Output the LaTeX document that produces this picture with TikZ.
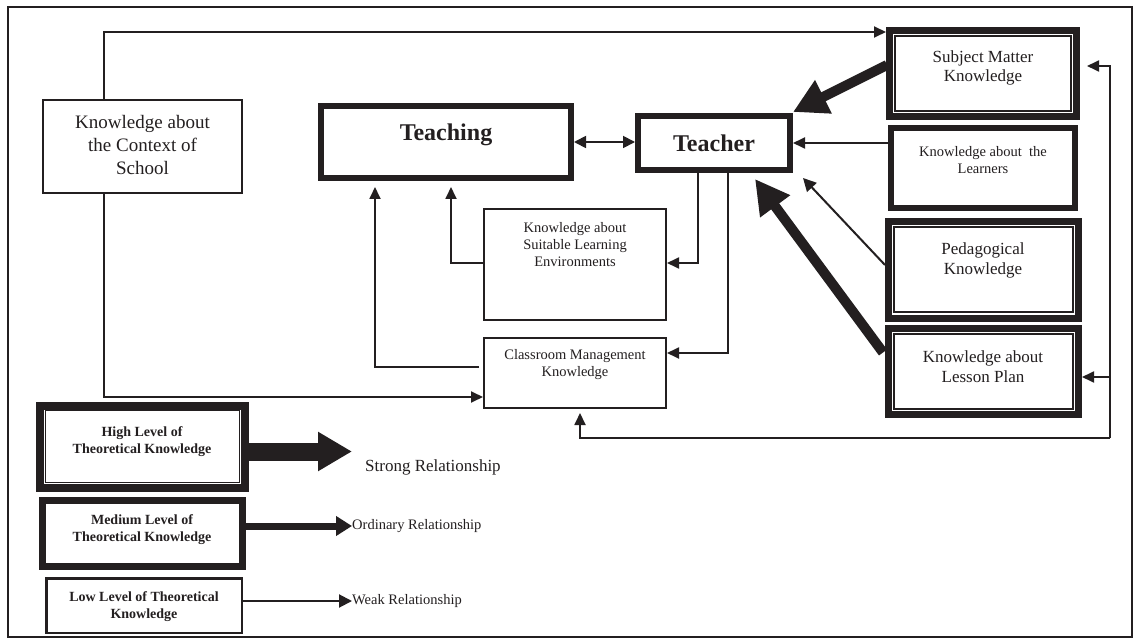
\documentclass[tikz,border=0pt]{standalone}
\usepackage{fontspec}
\setmainfont{Liberation Serif}
\usetikzlibrary{arrows.meta,calc}
\definecolor{ink}{RGB}{35,31,32}
\begin{document}
\begin{tikzpicture}[x=1pt,y=-1pt, color=ink,
  box/.style={draw, rectangle, inner sep=0pt},
  innerline/.style={line width=1.5pt},
  txt/.style={align=center, inner sep=0pt},
  conn/.style={line width=1.8pt, -{Triangle[length=12pt,width=11pt]}},
  twoway/.style={line width=1.8pt, {Triangle[length=12pt,width=12pt]}-{Triangle[length=12pt,width=12pt]}},
  plainline/.style={line width=1.8pt},
  bigarrow/.style={line width=10pt, -{Triangle[length=34pt,width=35pt]}},
  hugearrow/.style={line width=18pt, -{Triangle[length=34pt,width=37pt]}},
  midarrow/.style={line width=7pt, -{Triangle[length=16pt,width=19pt]}},
  smallarrow/.style={line width=2pt, -{Triangle[length=13pt,width=13pt]}},
]
\useasboundingbox (0,0) rectangle (1137,644);
\fill[white] (0,0) rectangle (1137,644);
\draw[line width=2pt] (8,7) rectangle (1132,637);

% boxes
\node[box, line width=2pt, minimum width=199pt, minimum height=93pt] (ctx) at (142.5,146.5) {};
\node[box, line width=7pt, minimum width=187pt, minimum height=86pt] (sm) at (983,73.5) {};
\node[box, line width=6pt, minimum width=184pt, minimum height=80pt] (lrn) at (983,168) {};
\node[box, line width=7pt, minimum width=190pt, minimum height=97pt] (ped) at (983.5,270) {};
\node[box, line width=7pt, minimum width=190pt, minimum height=86pt] (lp) at (983.5,371.5) {};
\node[box, line width=6pt, minimum width=152pt, minimum height=54pt] (tchr) at (714,143) {};
\node[box, line width=6pt, minimum width=250pt, minimum height=72pt] (tchg) at (446,142) {};
\node[box, line width=2pt, minimum width=182pt, minimum height=111pt] (sle) at (575,264.5) {};
\node[box, line width=2pt, minimum width=182pt, minimum height=70pt] (cmk) at (575,373) {};
\node[box, line width=8pt, minimum width=205pt, minimum height=82pt] (hi) at (142.5,447) {};
\node[box, line width=7pt, minimum width=200pt, minimum height=66pt] (med) at (142.5,533.5) {};
\node[box, line width=2.5pt, minimum width=195.5pt, minimum height=54.5pt] (low) at (144,605.5) {};

% inner frames of double boxes
\draw[innerline] ([shift={(9,9)}]sm.north west) rectangle ([shift={(-9,-9)}]sm.south east);
\draw[innerline] ([shift={(9,9)}]ped.north west) rectangle ([shift={(-9,-10)}]ped.south east);
\draw[innerline] ([shift={(9,9)}]lp.north west) rectangle ([shift={(-9,-9)}]lp.south east);
\draw[innerline] ([shift={(9.5,8.5)}]hi.north west) rectangle ([shift={(-9.5,-9.5)}]hi.south east);

% texts
\node[txt, font=\fontsize{19}{23}\selectfont] (ctxt) at (142.5,145) {Knowledge about\\the Context of\\School};
\node[txt, font=\fontsize{17}{19}\selectfont] (smt) at (983,68) {Subject Matter\\Knowledge};
\node[txt, font=\fontsize{14.5}{16.5}\selectfont] (lrnt) at (983,160) {Knowledge about\ \ the\\Learners};
\node[txt, font=\fontsize{17}{20}\selectfont] (pedt) at (983,260) {Pedagogical\\Knowledge};
\node[txt, font=\fontsize{17}{20}\selectfont] (lpt) at (983,367) {Knowledge about\\Lesson Plan};
\node[txt, font=\fontsize{24}{28}\selectfont\bfseries] (tchrt) at (714,143) {Teacher};
\node[txt, font=\fontsize{24}{28}\selectfont\bfseries] (tchgt) at (446,135) {Teaching};
\node[txt, font=\fontsize{14.5}{17}\selectfont] (slet) at (575,245) {Knowledge about\\Suitable Learning\\Environments};
\node[txt, font=\fontsize{14.5}{17}\selectfont] (cmkt) at (575,365) {Classroom Management\\Knowledge};
\node[txt, font=\fontsize{14}{17}\selectfont\bfseries] (hit) at (142,441.5) {High Level of\\Theoretical Knowledge};
\node[txt, font=\fontsize{14}{17}\selectfont\bfseries] (medt) at (142,529.5) {Medium Level of\\Theoretical Knowledge};
\node[txt, font=\fontsize{14}{17}\selectfont\bfseries] (lowt) at (144,606.5) {Low Level of Theoretical\\Knowledge};
\node[txt, anchor=west, font=\fontsize{17}{20}\selectfont] (strong) at (365,467) {Strong Relationship};
\node[txt, anchor=west, font=\fontsize{14.5}{17}\selectfont] (ordinary) at (352,526) {Ordinary Relationship};
\node[txt, anchor=west, font=\fontsize{14.5}{17}\selectfont] (weak) at (352,601) {Weak Relationship};

% coordinates
\coordinate (c1) at ([shift={(62,0)}]ctx.north west);
\coordinate (c2) at ([shift={(62,0)}]ctx.south west);
\coordinate (rb) at (1110,438);
\coordinate (rl) at (1110,377);
\coordinate (sa) at (352,451.5);
\coordinate (oa) at (352,526);
\coordinate (wa) at (352,601);

% connectors
\draw[conn] (c1) |- ([shift={(0,5)}]sm.north west);
\draw[conn] (c2) |- ([shift={(0,24)}]cmk.west);
\draw[conn] (rb) |- ([shift={(7,-7.5)}]sm.east);
\draw[conn] (rb) -| ([shift={(5,4)}]cmk.south);
\draw[conn] (rl) -- (rl -| lp.east);
\draw[twoway] (tchg.east) -- (tchg.east -| tchr.west);
\draw[conn] (lrn.west |- tchr.east) -- (tchr.east);
\draw[bigarrow] ([shift={(1,-8.5)}]sm.west) -- ([shift={(0,-1)}]tchr.north east);
\draw[bigarrow] ([shift={(-2,-19)}]lp.west) -- ([shift={(41,6)}]tchr.south);
\draw[smallarrow] ([shift={(0,-5)}]ped.west) -- ([shift={(89,5)}]tchr.south);
\draw[conn] ([shift={(-16,0)}]tchr.south) |- ([shift={(0,-1.5)}]sle.east);
\draw[conn] ([shift={(14,0)}]tchr.south) |- ([shift={(0,-20)}]cmk.east);
\draw[conn] ([shift={(0,-1.5)}]sle.west) -| ([shift={(5,6)}]tchg.south);
\draw[conn] ([shift={(-4,-6)}]cmk.west) -| ([shift={(-71,6)}]tchg.south);

% legend arrows
\draw[hugearrow] ([shift={(0,4.5)}]hi.east) -- (sa);
\draw[midarrow] (med.east |- oa) -- (oa);
\draw[smallarrow] (low.east |- wa) -- (wa);
\end{tikzpicture}
\end{document}
